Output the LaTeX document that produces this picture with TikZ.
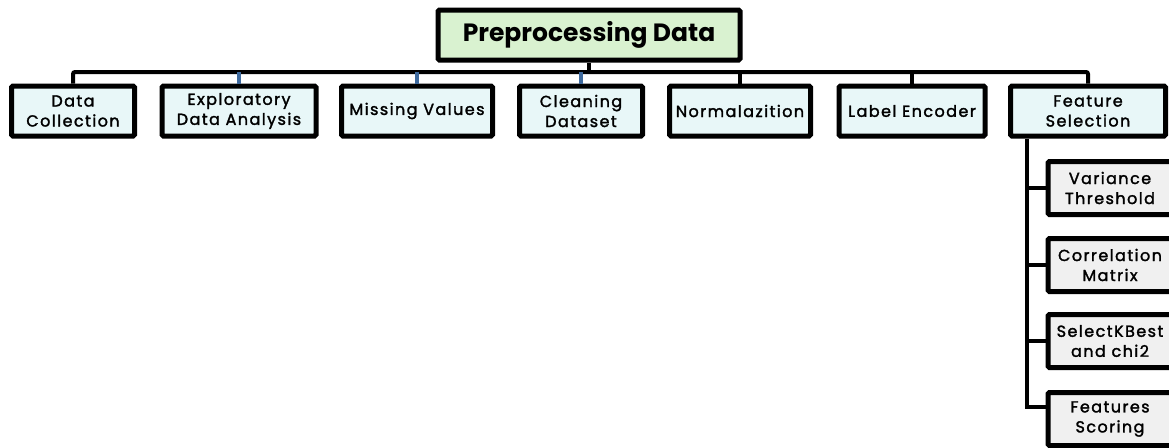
\documentclass[tikz,border=0pt]{standalone}
\usepackage{fontspec}
\setmainfont{Poppins}
\newfontfamily\kidfont{Poppins}[LetterSpace=9,FakeBold=1.8]
\definecolor{topfill}{HTML}{D9F2D0}
\definecolor{kidfill}{HTML}{E8F7F8}
\definecolor{subfill}{HTML}{F0F0F0}
\definecolor{bluelink}{HTML}{3E6A9E}
\begin{document}
\begin{tikzpicture}[x=1pt,y=-1pt,
  base/.style={draw=black,line width=5pt,rounded corners=1.5pt,align=center,inner sep=0pt,anchor=center},
  topbox/.style={base,fill=topfill,minimum width=302pt,minimum height=50pt,font=\fontsize{25}{29}\selectfont\bfseries},
  kidbox/.style={base,fill=kidfill,minimum height=50pt,font=\kidfont\fontsize{16}{20}\selectfont},
  subbox/.style={base,fill=subfill,minimum width=124pt,minimum height=53pt,font=\kidfont\fontsize{16}{20}\selectfont},
  link/.style={line width=4pt,draw=black},
  bluel/.style={line width=4pt,draw=bluelink}]
\useasboundingbox (0,0) rectangle (1169,447);
\clip (0,0) rectangle (1169,447);
\node[topbox] (top) at (589,35) {Preprocessing Data};
\node[kidbox,minimum width=123pt] (dc) at (73,111) {Data\\Collection};
\node[kidbox,minimum width=154pt] (eda) at (239,111) {Exploratory\\Data Analysis};
\node[kidbox,minimum width=151pt] (mv) at (417,111) {Missing Values};
\node[kidbox,minimum width=123pt] (cd) at (581,111) {Cleaning\\Dataset};
\node[kidbox,minimum width=141pt] (nz) at (740,111) {Normalazition};
\node[kidbox,minimum width=146pt] (le) at (912,111) {Label Encoder};
\node[kidbox,minimum width=155pt] (fs) at (1088,111) {Feature\\Selection};
\node[subbox] (vt) at (1110,188) {Variance\\Threshold};
\node[subbox] (cm) at (1110,265) {Correlation\\Matrix};
\node[subbox] (sk) at (1110,341) {SelectKBest\\and chi2};
\node[subbox] (sc) at (1110,419) {Features\\Scoring};
\coordinate (busL) at (73,72);
\coordinate (busR) at (1088,72);
\coordinate (vx) at (1027,0);
\draw[link] (top.south) -- (top.south |- busL);
\draw[link,rounded corners=2pt] (dc.north) -- (busL) -- (busR) -- (fs.north);
\draw[bluel] (eda.north) -- (eda.north |- busL);
\draw[bluel] (mv.north) -- (mv.north |- busL);
\draw[bluel] (cd.north) -- (cd.north |- busL);
\draw[link] (nz.north) -- (nz.north |- busL);
\draw[link] (le.north) -- (le.north |- busL);
\draw[link] (vx |- fs.south) -- (vx |- 0,407) -- (sc.west |- 0,407);
\draw[link] (vx |- vt.west) -- (vt.west);
\draw[link] (vx |- cm.west) -- (cm.west);
\draw[link] (vx |- sk.west) -- (sk.west);
\end{tikzpicture}
\end{document}
